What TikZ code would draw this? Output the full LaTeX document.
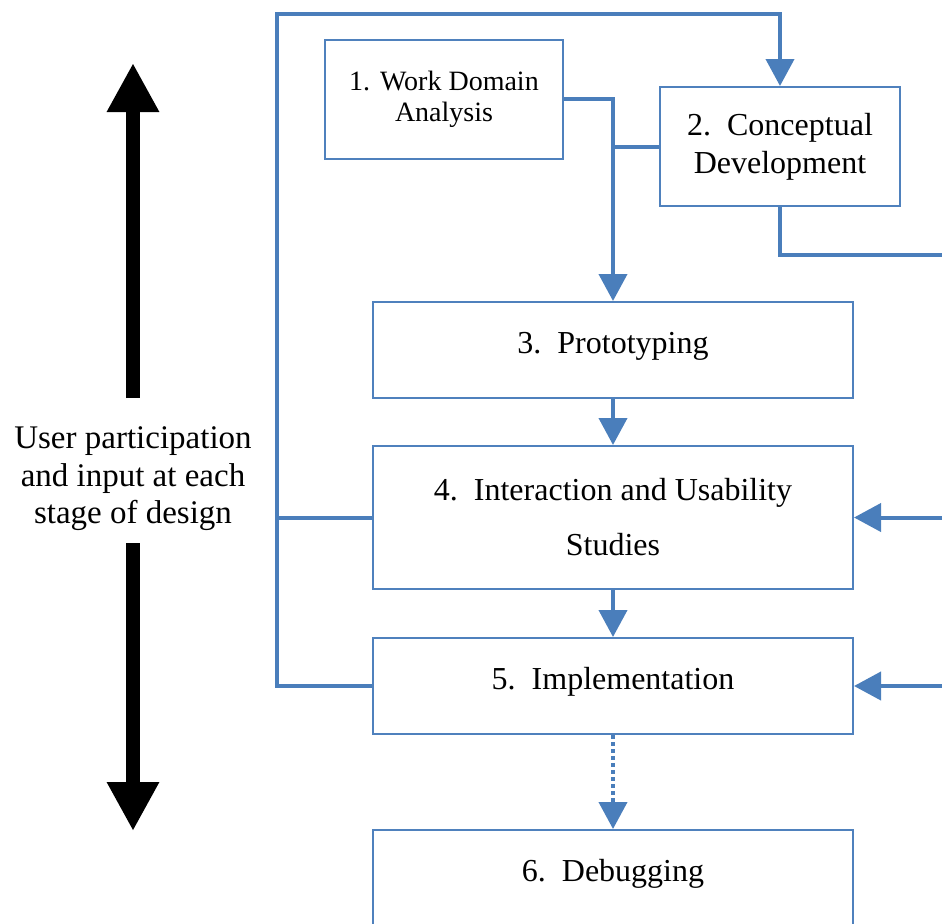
\documentclass[tikz,border=0pt]{standalone}
\usepackage{fontspec}
\setmainfont{Liberation Serif}
\usetikzlibrary{arrows.meta, positioning}
\definecolor{lineblue}{RGB}{74,126,187}
\definecolor{boxblue}{RGB}{79,129,189}

\begin{document}
\begin{tikzpicture}[x=0.5pt, y=-0.5pt,
	stage/.style={draw=boxblue, line width=1pt, align=center, inner sep=0pt, font=\fontsize{16}{19}\selectfont},
	wide/.style={stage, minimum width=240pt, minimum height=48pt},
	upper/.style={text height=11pt, text depth=8pt},
	flow/.style={draw=lineblue, line width=2pt},
	flowtip/.style={flow, -{Triangle[length=13.5pt,width=14pt]}},
	bigarrow/.style={black, line width=7pt, -{Triangle[length=24.5pt,width=24.5pt]}}]
	\useasboundingbox (0,0) rectangle (942,923);

	% stages
	\node[stage, minimum width=119pt, minimum height=59.5pt, font=\fontsize{14}{15.5}\selectfont] (s1) at (444,99) {1.\hspace{0.35em}Work Domain\\Analysis};
	\node[stage, minimum width=120pt, minimum height=59.5pt] (s2) at (780,146.5) {2.\enspace Conceptual\\Development};
	\node[wide, upper] (s3) at (613,350) {3.\enspace Prototyping};
	\node[wide, minimum height=71.5pt, font=\fontsize{16}{27.5}\selectfont] (s4) at (613,517.5) {4.\enspace Interaction and Usability\\Studies};
	\node[wide, upper] (s5) at (613,686) {5.\enspace Implementation};
	\node[wide, upper] (s6) at (613,878) {6.\enspace Debugging};

	% user side
	\node[align=center, font=\fontsize{16.5}{18.75}\selectfont] (user) at (133,479) {User participation\\and input at each\\stage of design};
	\coordinate (up) at (133,63);
	\coordinate (down) at (133,831);
	\draw[bigarrow] (133,398) -- (up);
	\draw[bigarrow] (133,543) -- (down);

	% connectors
	\coordinate (busT) at (277,14);
	\coordinate (feed) at (960,255);
	\draw[flowtip] (s5.west) -| (busT) -| (s2.north);
	\draw[flow] (s4.west) -- (s4.west -| busT);
	\draw[flowtip] (s1.east) -| (s3.north);
	\draw[flow] (s2.west) -- (s2.west -| s3.north);
	\draw[flow] (s2.south) |- (feed);
	\draw[flowtip] (s4.east -| feed) -- (s4.east);
	\draw[flowtip] (s5.east -| feed) -- (s5.east);
	\draw[flowtip] (s3) -- (s4);
	\draw[flowtip] (s4) -- (s5);
	\draw[flowtip, dash pattern=on 2pt off 1.5pt] (s5) -- (s6);
\end{tikzpicture}
\end{document}
